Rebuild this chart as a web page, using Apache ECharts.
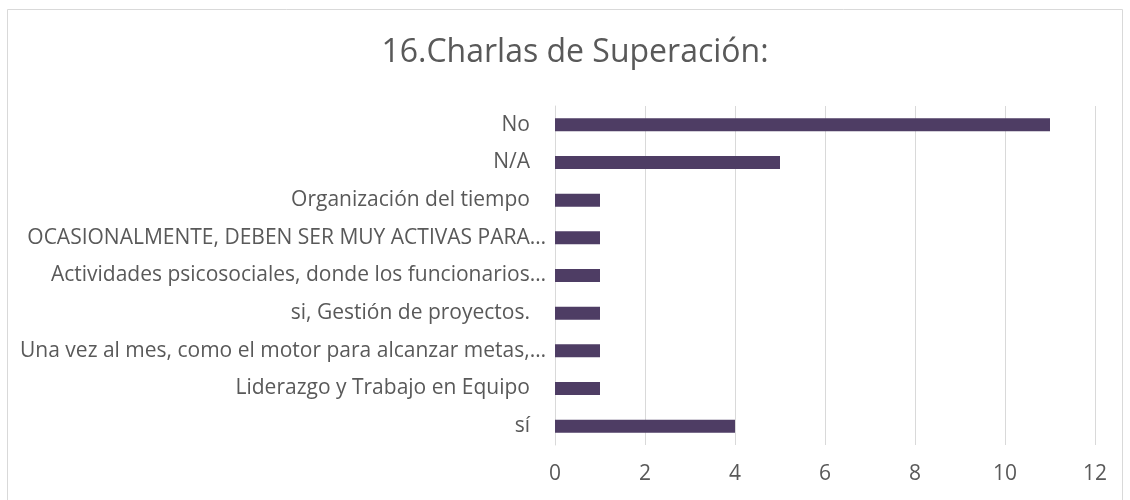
<!DOCTYPE html>
<html>
<head>
<meta charset="utf-8">
<script src="https://cdn.jsdelivr.net/npm/echarts@6/dist/echarts.min.js"></script>
<style>
  html, body { margin: 0; padding: 0; background: #fff; }
  #main { width: 1130px; height: 500px; }
</style>
</head>
<body>
<div id="main"></div>
<script>
var chartDom = document.getElementById('main');
var myChart = echarts.init(chartDom);
var option;

// categories listed bottom to top (as ECharts draws a category y axis)
var categories = [
    'sí',
    'Liderazgo y Trabajo en Equipo',
    'Una vez al mes, como el motor para alcanzar metas,…',
    'si, Gestión de proyectos.',
    'Actividades psicosociales, donde los funcionarios…',
    'OCASIONALMENTE, DEBEN SER MUY ACTIVAS PARA…',
    'Organización del tiempo',
    'N/A',
    'No'
];
var values = [4, 1, 1, 1, 1, 1, 1, 5, 11];
var xTicks = [0, 2, 4, 6, 8, 10, 12];

var fontName = 'Open Sans';
var textColor = '#595959';

option = {
    animation: false,
    backgroundColor: '#ffffff',
    title: {
        text: '16.Charlas de Superación:',
        left: 570,
        top: 32,
        textAlign: 'center',
        textStyle: {
            fontFamily: fontName,
            fontSize: 32,
            fontWeight: 'normal',
            color: textColor
        }
    },
    graphic: [{
        type: 'rect',
        shape: { x: 7.5, y: 9.5, width: 1115, height: 500 },
        style: { fill: 'none', stroke: '#d9d9d9', lineWidth: 1 },
        silent: true
    }],
    grid: {
        left: 555,
        right: 35,
        top: 106,
        bottom: 55
    },
    xAxis: {
        type: 'value',
        min: xTicks[0],
        max: xTicks[xTicks.length - 1],
        interval: 2,
        axisLine: { show: false },
        axisTick: { show: false },
        splitLine: { lineStyle: { color: '#d9d9d9', width: 1 } },
        axisLabel: {
            margin: 19,
            fontFamily: fontName,
            fontSize: 21,
            color: textColor
        }
    },
    yAxis: {
        type: 'category',
        data: categories,
        axisLine: { show: true, lineStyle: { color: '#d9d9d9' } },
        axisTick: { show: false },
        axisLabel: {
            margin: 9,
            fontFamily: fontName,
            fontSize: 21,
            color: textColor,
            // Excel leaves a wider gap before labels that were not cut short
            formatter: function (v) {
                return v.slice(-1) === '…' ? '{t|' + v + '}' : '{f|' + v + '}';
            },
            rich: {
                t: { fontFamily: fontName, fontSize: 21, color: textColor },
                f: { fontFamily: fontName, fontSize: 21, color: textColor, padding: [0, 16, 0, 0] }
            }
        }
    },
    series: [{
        type: 'bar',
        data: values,
        barWidth: 13,
        itemStyle: { color: '#4e3d64' }
    }]
};

option && myChart.setOption(option);
</script>
</body>
</html>
